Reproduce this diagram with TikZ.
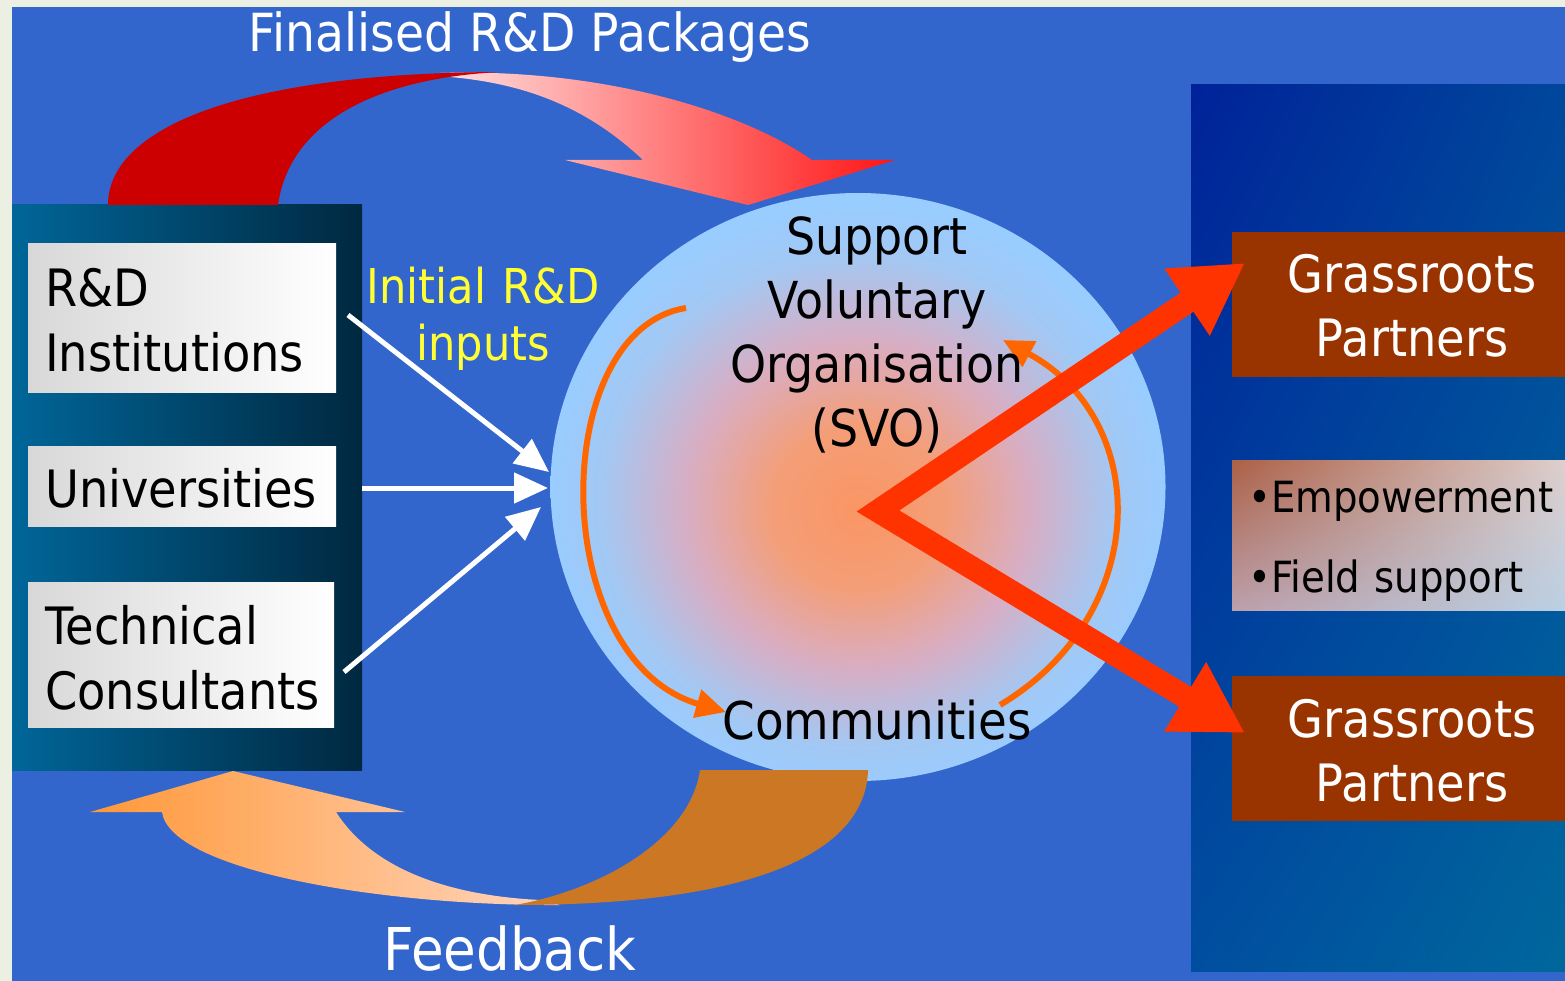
\documentclass[tikz,border=0pt]{standalone}
\usepackage{fontspec}
\setmainfont{DejaVu Sans}[FakeStretch=0.9]
\usetikzlibrary{arrows.meta,shapes.geometric,shadings}
\newcommand\myfs[2]{\fontsize{#1}{#2}\selectfont}
\definecolor{pagebg}{RGB}{236,240,226}
\definecolor{mainblue}{RGB}{51,102,204}
\definecolor{panelL}{RGB}{0,102,153}
\definecolor{panelR}{RGB}{0,40,64}
\definecolor{boxgrey}{RGB}{216,216,216}
\definecolor{rpUL}{RGB}{0,34,153}
\definecolor{rpUR}{RGB}{0,72,156}
\definecolor{rpLL}{RGB}{0,78,160}
\definecolor{rpLR}{RGB}{0,104,156}
\definecolor{grass}{RGB}{153,51,0}
\definecolor{empUL}{RGB}{172,96,70}
\definecolor{empUR}{RGB}{226,216,216}
\definecolor{empLL}{RGB}{188,160,172}
\definecolor{empLR}{RGB}{186,212,232}
\definecolor{svoorange}{RGB}{250,150,100}
\definecolor{svoo2}{RGB}{244,158,120}
\definecolor{svomid}{RGB}{216,174,196}
\definecolor{svoblue2}{RGB}{162,200,244}
\definecolor{svoblue}{RGB}{153,204,255}
\definecolor{arcorange}{RGB}{255,102,0}
\definecolor{bigred}{RGB}{255,51,0}
\definecolor{darkred}{RGB}{204,0,0}
\definecolor{palered}{RGB}{255,225,225}
\definecolor{brightred}{RGB}{255,22,22}
\definecolor{fbdark}{RGB}{204,119,36}
\definecolor{fbL}{RGB}{255,152,56}
\definecolor{fbR}{RGB}{255,214,192}
\definecolor{inyellow}{RGB}{255,255,51}
\pgfdeclareradialshading{svoshade}{\pgfpoint{0bp}{-2bp}}{color(0bp)=(svoorange); color(7bp)=(svoo2); color(14bp)=(svomid); color(21bp)=(svoblue2); color(25bp)=(svoblue); color(50bp)=(svoblue)}
\begin{document}
\begin{tikzpicture}[x=1pt,y=-1pt,
  wbox/.style={rectangle, inner sep=0pt, left color=boxgrey, right color=white},
  lefttxt/.style={anchor=base west, inner sep=0pt, text width=290pt, align=left, font=\myfs{51.5}{65}},
  gbox/.style={rectangle, inner sep=0pt, fill=grass, minimum width=360pt, minimum height=145pt},
  gtxt/.style={anchor=base, inner sep=0pt, text width=340pt, align=center, text=white, font=\myfs{51.5}{64}},
  arcarrow/.style={draw=arcorange, line width=6pt, -{Triangle[length=30pt,width=28pt]}},
  whitearrow/.style={draw=white, line width=5pt, -{Triangle[length=34pt,width=30pt]}},
  bigarrow/.style={draw=bigred, line width=23pt, line join=miter, {Triangle[length=70pt,width=76pt]}-{Triangle[length=70pt,width=76pt]}}
]
\useasboundingbox (0,0) rectangle (1565,981);
\fill[pagebg] (0,0) rectangle (1565,981);
\fill[mainblue] (12,7) rectangle (1565,981);
% right panel
\shade[upper left=rpUL, upper right=rpUR, lower left=rpLL, lower right=rpLR] (1191,85) rectangle (1575,971);
% left panel
\shade[left color=panelL, right color=panelR] (12,205) rectangle (362,770);
% white boxes
\node[wbox, minimum width=308pt, minimum height=148pt] (rdbox) at (182,318) {};
\node[wbox, minimum width=308pt, minimum height=80pt] (unibox) at (182,486) {};
\node[wbox, minimum width=306pt, minimum height=145pt] (tcbox) at (181,654.5) {};
\node[lefttxt] (rdtxt) at (45,307) {R\&D\\Institutions};
\node[lefttxt] (unitxt) at (45,507) {Universities};
\node[lefttxt] (tctxt) at (45,644) {Technical\\Consultants};
% SVO circle
\node[ellipse, minimum width=615pt, minimum height=588pt, inner sep=0pt, shade, shading=svoshade] (svo) at (858,487) {};
\coordinate (la) at (686,308);
\coordinate (lb) at (726,712);
\coordinate (ra) at (1000,705);
\coordinate (rb) at (1003,340);
\draw[arcarrow] (la) .. controls (547,330) and (547,660) .. (lb);
\draw[arcarrow] (ra) .. controls (1152,614) and (1152,420) .. (rb);
\node[anchor=base, text width=420pt, align=center, inner sep=0pt, font=\myfs{51}{64}] (svotxt) at (877,255) {Support\\Voluntary\\Organisation\\(SVO)};
\node[anchor=base, inner sep=0pt, font=\myfs{52}{60}] (comm) at (877,739) {Communities};
% labels
\node[anchor=base, text width=300pt, align=center, inner sep=0pt, font=\myfs{48}{57}, text=inyellow] (initial) at (483,304) {Initial R\&D\\inputs};
\node[anchor=base, inner sep=0pt, font=\myfs{52.5}{60}, text=white] (title) at (530,52) {Finalised R\&D Packages};
\node[anchor=base, inner sep=0pt, font=\myfs{59}{70}, text=white] (fb) at (510,970) {Feedback};
% top curved arrow
\shade[left color=palered, right color=brightred] (440,73) .. controls (600,68) and (740,110) .. (812,160) -- (895,160) -- (748,205) -- (565,160) -- (643,160) .. controls (590,110) and (530,84) .. (450,77) -- cycle;
\fill[darkred] (108,205) .. controls (108,128) and (240,73) .. (500,72) .. controls (380,78) and (290,120) .. (278,205) -- cycle;
% bottom curved arrow
\shade[left color=fbL, right color=fbR] (233,771) -- (405,812) -- (336,812) .. controls (370,865) and (440,895) .. (540,900) -- (560,905) .. controls (380,906) and (170,870) .. (162,812) -- (90,812) -- cycle;
\fill[fbdark] (868,770) .. controls (866,850) and (760,905) .. (515,905) .. controls (600,890) and (690,840) .. (700,770) -- cycle;
% white input arrows
\coordinate (w1s) at (348,315);
\coordinate (w1e) at (549,472);
\coordinate (w2s) at (362,488);
\coordinate (w2e) at (548,488);
\coordinate (w3s) at (344,672);
\coordinate (w3e) at (541,507);
\draw[whitearrow] (w1s) -- (w1e);
\draw[whitearrow] (w2s) -- (w2e);
\draw[whitearrow] (w3s) -- (w3e);
% right side boxes
\node[gbox] (gp1) at (1412,304.5) {};
\node[gbox] (gp2) at (1412,748.5) {};
\node[gtxt] (gp1txt) at (1412,293) {Grassroots\\Partners};
\node[gtxt] (gp2txt) at (1412,737) {Grassroots\\Partners};
\node[rectangle, inner sep=0pt, minimum width=360pt, minimum height=150pt, upper left=empUL, upper right=empUR, lower left=empLL, lower right=empLR] (emp) at (1412,535) {};
\node[anchor=base west, text width=330pt, align=left, inner sep=0pt, font=\myfs{43}{80}] (emptxt) at (1248,512) {•Empowerment\\•Field support};
% red arrows
\coordinate (hub) at (878,511);
\coordinate (gp1tip) at (1245,263);
\coordinate (gp2tip) at (1245,733);
\draw[bigarrow] (gp1tip) -- (hub) -- (gp2tip);
\end{tikzpicture}
\end{document}
